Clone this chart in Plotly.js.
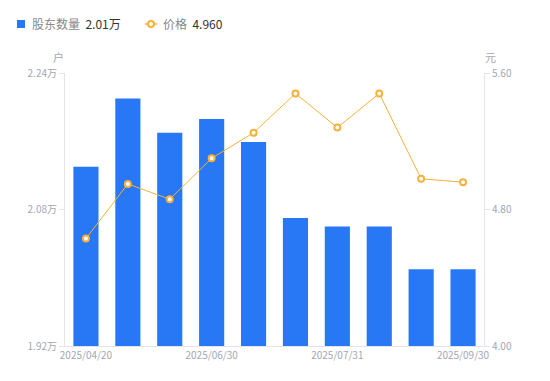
<!DOCTYPE html>
<html>
<head>
<meta charset="utf-8">
<script src="https://cdn.plot.ly/plotly-3.0.1.min.js"></script>
<style>html,body{margin:0;padding:0;background:#fff;}#chart{width:550px;height:381px;}</style>
</head>
<body>
<div id="chart"></div>
<script>
const dates = ["2025/04/20","2025/05/10","2025/05/31","2025/06/30","2025/07/10","2025/07/20","2025/07/31","2025/08/20","2025/08/31","2025/09/30"];
const holders = [21300, 22100, 21700, 21860, 21590, 20700, 20600, 20600, 20100, 20100];
const prices = [4.63, 4.95, 4.86, 5.10, 5.25, 5.48, 5.28, 5.48, 4.98, 4.96];
const shownDates = ["2025/04/20","2025/06/30","2025/07/31","2025/09/30"];
const leftTickVals = [19200, 20800, 22400];
const leftTickText = ["1.92万","2.08万","2.24万"];
const rightTickVals = [4.00, 4.80, 5.60];
const rightTickText = ["4.00","4.80","5.60"];

const FONT = "'Noto Sans CJK SC', 'Noto Sans', sans-serif";
const TICK = "#a3a6b4";
const AXIS = "#e3e4e8";
const BLUE = "#2878f5";
const ORANGE = "#f7b13c";

const lastHolder = (holders[holders.length-1]/10000).toFixed(2) + "万";
const lastPrice = prices[prices.length-1].toFixed(3);

const traces = [
  {type:"bar", x:dates, y:holders, marker:{color:BLUE}, yaxis:"y", hoverinfo:"skip"},
  {type:"scatter", mode:"lines+markers", x:dates, y:prices, yaxis:"y2",
   line:{color:ORANGE, width:1},
   marker:{symbol:"circle", size:6, color:"#ffffff", line:{color:ORANGE, width:2}},
   hoverinfo:"skip"}
];

const LY = 1 + (73-24)/273;

const layout = {
  width:550, height:381,
  margin:{l:65, r:66, t:73, b:35},
  paper_bgcolor:"#fff", plot_bgcolor:"#fff",
  showlegend:false,
  bargap:0.4,
  font:{family:FONT, color:TICK, size:10},
  xaxis:{type:"category", tickmode:"array", tickvals:shownDates, ticktext:shownDates,
    showgrid:false, zeroline:false, showline:true, linecolor:AXIS, linewidth:1,
    ticks:"", tickfont:{size:10, color:TICK}, range:[-0.5, 9.5], fixedrange:true},
  yaxis:{range:[19200,22400], tickmode:"array", tickvals:leftTickVals, ticktext:leftTickText,
    showgrid:false, zeroline:false, showline:true, linecolor:AXIS, linewidth:1,
    ticks:"outside", ticklen:5, tickcolor:AXIS, tickfont:{size:10, color:TICK}},
  yaxis2:{range:[4.0,5.6], overlaying:"y", side:"right", tickmode:"array",
    tickvals:rightTickVals, ticktext:rightTickText,
    showgrid:false, zeroline:false, showline:true, linecolor:AXIS, linewidth:1,
    ticks:"outside", ticklen:5, tickcolor:AXIS, tickfont:{size:10, color:TICK}},
  shapes:[
    {type:"rect", xref:"paper", yref:"paper", xsizemode:"pixel", ysizemode:"pixel",
     xanchor:0, yanchor:LY, x0:-48, x1:-40, y0:-4, y1:4,
     fillcolor:BLUE, line:{width:0}},
    {type:"line", xref:"paper", yref:"paper", xsizemode:"pixel", ysizemode:"pixel",
     xanchor:0, yanchor:LY, x0:80, x1:92, y0:0, y1:0,
     line:{color:ORANGE, width:1.5}},
    {type:"circle", xref:"paper", yref:"paper", xsizemode:"pixel", ysizemode:"pixel",
     xanchor:0, yanchor:LY, x0:83, x1:89, y0:-3, y1:3,
     fillcolor:"#fff", line:{color:ORANGE, width:2}}
  ],
  annotations:[
    {xref:"paper", yref:"paper", x:0, y:LY, xshift:-35, xanchor:"left", yanchor:"middle", showarrow:false,
     text:"股东数量  <span style='color:#333'>"+lastHolder+"</span>", font:{size:12, color:"#888"}},
    {xref:"paper", yref:"paper", x:0, y:LY, xshift:96, xanchor:"left", yanchor:"middle", showarrow:false,
     text:"价格  <span style='color:#333'>"+lastPrice+"</span>", font:{size:12, color:"#888"}},
    {xref:"paper", yref:"paper", x:0, y:1, xshift:-7, yshift:16, xanchor:"center", yanchor:"middle", showarrow:false,
     text:"户", font:{size:11, color:TICK}},
    {xref:"paper", yref:"paper", x:1, y:1, xshift:6, yshift:16, xanchor:"center", yanchor:"middle", showarrow:false,
     text:"元", font:{size:11, color:TICK}}
  ]
};

Plotly.newPlot("chart", traces, layout, {staticPlot:true, displayModeBar:false});
</script>
</body>
</html>
